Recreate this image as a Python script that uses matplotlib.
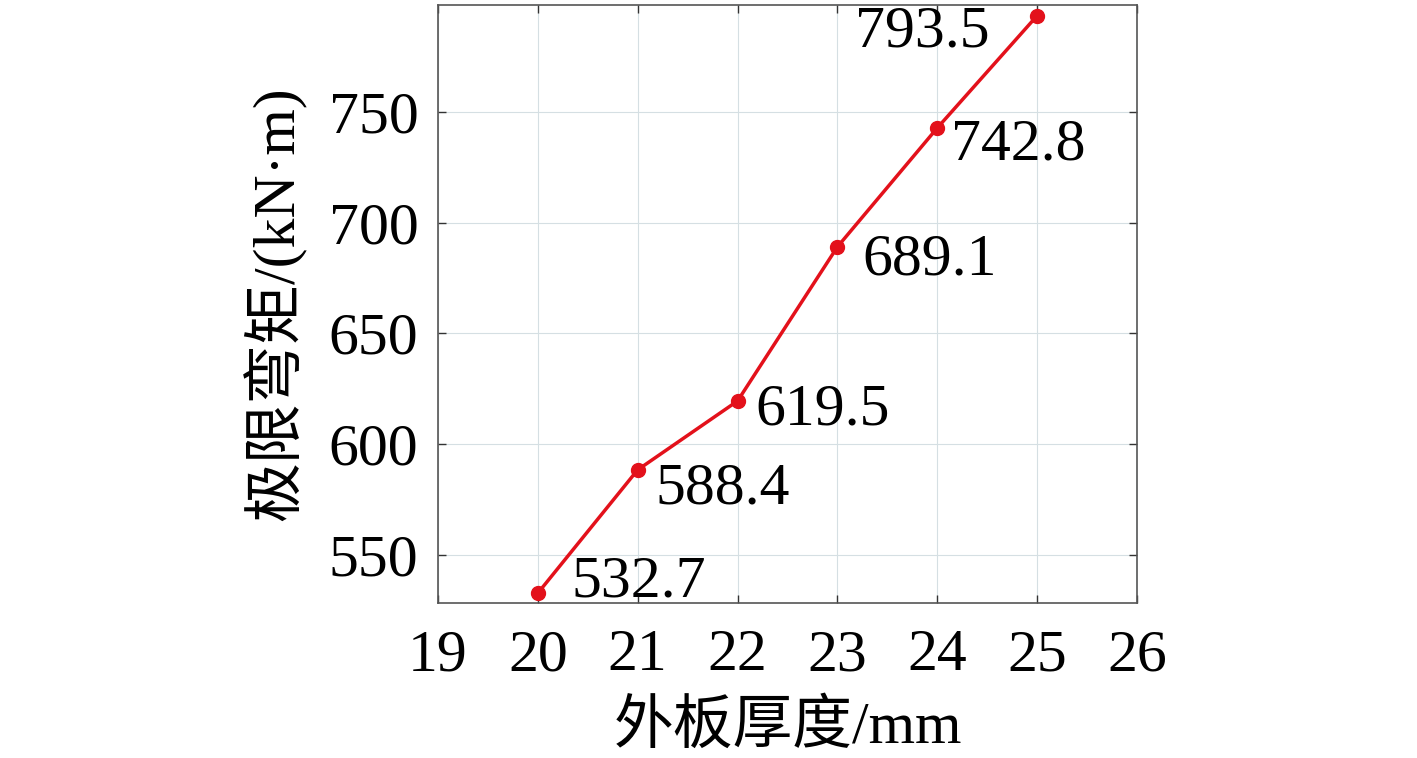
import matplotlib.pyplot as plt

plt.rcParams['font.family'] = ['Liberation Serif', 'Noto Sans CJK SC']
plt.rcParams['axes.unicode_minus'] = False

# 外板厚度 (mm) 与 极限弯矩 (kN·m)
houdu = [20, 21, 22, 23, 24, 25]
wanju = [532.7, 588.4, 619.5, 689.1, 742.8, 793.5]
# 标注偏移 (points) 与对齐方式
pianyi = [(24, 8), (13, -14), (13, -7), (18, -10), (10, -13), (-34, -12)]
duiqi = ['left', 'left', 'left', 'left', 'left', 'right']

fig = plt.figure(figsize=(14.17, 7.58), dpi=100)
ax = fig.add_axes([0.309, 0.2045, 0.4935, 0.789])

ax.plot(houdu, wanju, color='#e3111b', linewidth=2.5, marker='o', markersize=10)

for x, y, (dx, dy), ha in zip(houdu, wanju, pianyi, duiqi):
    ax.annotate(f'{y:.1f}', (x, y), xytext=(dx, dy), textcoords='offset points',
                ha=ha, va='center', fontsize=43)

ax.set_xlim(19, 26)
ax.set_ylim(528.3, 798.3)
ax.set_xticks(range(19, 27))
ax.set_yticks([550, 600, 650, 700, 750])
ax.grid(True, color='#d5dfe3', linewidth=0.8)
ax.tick_params(direction='in', top=True, right=True, length=6, width=1,
               labelsize=43, color='#333333')
ax.tick_params(axis='x', pad=19)
ax.tick_params(axis='y', pad=14)
for s in ax.spines.values():
    s.set_color('#555555')
    s.set_linewidth(1.2)

ax.set_xlabel('外板厚度/mm', fontsize=43, labelpad=12)
ax.set_ylabel('极限弯矩/(kN·m)', fontsize=43, labelpad=16)

fig.savefig('out.png', dpi=100)
